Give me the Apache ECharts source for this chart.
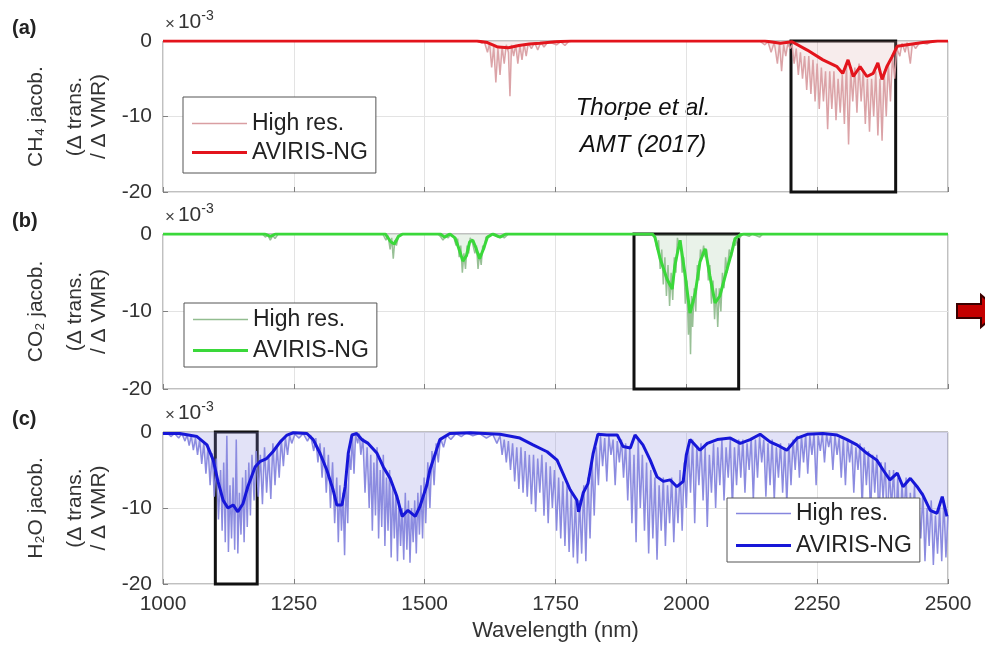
<!DOCTYPE html>
<html>
<head>
<meta charset="utf-8">
<script src="https://cdn.jsdelivr.net/npm/echarts@6/dist/echarts.min.js"></script>
<style>
html,body{margin:0;padding:0;background:#fff;}
#chart{width:985px;height:656px;}
</style>
</head>
<body>
<div id="chart"></div>
<script>
// ---------------- DATA (wavelength nm, jacobian x1e-3) ----------------
const xTickLabels = ['1000','1250','1500','1750','2000','2250','2500'];
const yTickLabels = ['-20','-10','0'];
const seriesLabels = ['High res.', 'AVIRIS-NG'];

const ch4Box = [2200, 2400];
const co2Box = [1900, 2100];
const h2oBox = [1100, 1180];

const ch4HighRes = [
[1000,0],[1600,0],[1610,-0.3],[1614,-0.1],[1620,-1.5],[1624,-0.3],[1628,-3.5],[1632,-0.8],[1636,-5.5],[1640,-1],
[1644,-4.5],[1648,-0.8],[1652,-3],[1656,-0.5],[1660,-1.5],[1663,-7.3],[1666,-0.5],[1670,-2],[1674,-0.5],[1678,-3],
[1682,-0.6],[1686,-2.5],[1690,-0.4],[1694,-2],[1698,-0.3],[1704,-1],[1710,-0.2],[1716,-1.2],[1722,-0.2],[1728,-0.8],
[1736,-0.1],[1752,-0.5],[1760,-0.1],[1768,-0.6],[1776,0],[2140,0],[2150,-0.5],[2156,-0.1],[2162,-1.5],[2168,-0.2],
[2174,-3],[2178,-0.3],[2182,-4],[2186,-0.5],[2190,-2],[2194,-0.3],[2198,-1],[2202,-0.5],[2206,-3],[2210,-1],
[2214,-4.5],[2218,-1.5],[2222,-5],[2226,-2],[2230,-6.5],[2234,-2],[2238,-7],[2242,-2.5],[2246,-8],[2250,-3],
[2254,-9],[2258,-3.5],[2262,-8],[2266,-4],[2270,-11.7],[2274,-4],[2278,-9],[2282,-4],[2286,-10.5],[2290,-5],
[2294,-9.5],[2298,-4.5],[2302,-11],[2306,-3],[2310,-13.7],[2314,-4],[2318,-8],[2322,-3.5],[2326,-9.5],[2330,-3],
[2334,-8],[2338,-4],[2342,-11],[2346,-5],[2350,-12],[2354,-5],[2358,-10],[2362,-4],[2366,-12.5],[2370,-5],
[2374,-13.2],[2378,-4],[2382,-10],[2386,-3],[2390,-8],[2394,-2],[2398,-5],[2402,-1],[2408,-2],[2412,-0.3],
[2418,-1.5],[2422,-0.2],[2428,-3],[2432,-0.3],[2438,-1],[2446,-0.2],[2460,-0.4],[2470,0],[2500,0]
];
const ch4Aviris = [
[1000,0],[1600,0],[1620,-0.2],[1640,-0.8],[1660,-0.9],[1680,-0.6],[1700,-0.4],[1720,-0.3],[1750,-0.1],[1780,0],
[2150,0],[2180,-0.3],[2202,-0.1],[2231,-1.2],[2261,-2.5],[2288,-3.4],[2299,-4.3],[2309,-2.5],[2319,-4.7],[2332,-3.4],
[2345,-4.7],[2357,-4.3],[2366,-2.9],[2374,-5.1],[2383,-3.4],[2393,-2.1],[2403,-0.7],[2422,-0.5],[2452,-0.2],[2480,0],[2500,0]
];

const co2HighRes = [
[1000,0],[1190,0],[1196,-0.4],[1200,-0.1],[1205,-0.8],[1210,-0.2],[1214,-0.6],[1220,0],[1420,0],[1426,-0.8],
[1430,-0.2],[1434,-2],[1437,-0.5],[1440,-3.2],[1443,-0.8],[1446,-1.5],[1450,-0.2],[1456,0],[1525,0],[1530,-0.3],
[1535,-0.8],[1540,-0.3],[1545,-0.5],[1550,0],[1556,-0.5],[1560,-1.5],[1563,-0.6],[1566,-3],[1569,-1.5],[1572,-5],
[1575,-2.5],[1578,-4.5],[1581,-1.5],[1584,-2.5],[1587,-0.5],[1590,-0.8],[1593,-1],[1596,-2.5],[1599,-1.5],[1602,-4.5],
[1605,-2.5],[1608,-4],[1611,-1.5],[1614,-2],[1617,-0.4],[1622,-0.3],[1630,0],[1640,-0.4],[1646,-0.2],[1652,-0.5],
[1660,0],[1935,0],[1940,-0.5],[1944,-2],[1947,-0.8],[1950,-4.5],[1953,-2],[1956,-6.5],[1959,-3],[1962,-8],
[1965,-4],[1968,-9.3],[1971,-5],[1974,-8.5],[1977,-3],[1980,-5],[1983,-0.5],[1986,-1.5],[1989,-0.8],[1992,-5],
[1995,-3],[1998,-9],[2001,-6],[2004,-13],[2006,-9],[2008,-15.5],[2010,-8],[2012,-12],[2015,-7],[2018,-10],
[2021,-4],[2024,-6],[2027,-2],[2030,-3],[2033,-1.5],[2036,-3],[2039,-2],[2042,-6],[2045,-4],[2048,-9],
[2051,-6],[2054,-11],[2057,-7],[2060,-12],[2063,-7],[2066,-10],[2069,-5],[2072,-7],[2075,-3],[2078,-5],
[2082,-2],[2086,-3],[2090,-1],[2094,-1.5],[2098,-0.3],[2102,-0.5],[2108,0],[2120,-0.3],[2126,0],[2140,-0.4],
[2146,0],[2500,0]
];
const co2Aviris = [
[1000,0],[1195,0],[1205,-0.3],[1215,0],[1425,0],[1435,-1],[1442,-1.3],[1450,-0.3],[1458,0],[1530,0],
[1538,-0.4],[1548,0],[1558,-0.5],[1566,-2],[1573,-3.5],[1580,-2.8],[1586,-1],[1592,-0.8],[1598,-1.8],[1605,-3.2],
[1612,-2],[1620,-0.4],[1630,0],[1644,-0.4],[1655,0],[1935,0],[1940,-0.4],[1950,-3.2],[1963,-5.8],[1973,-7.1],
[1978,-4.1],[1988,-0.8],[1998,-5.4],[2007,-10.2],[2017,-7.6],[2026,-3.6],[2036,-1.9],[2045,-5.4],[2055,-8.9],[2064,-8],
[2078,-4.5],[2087,-2.3],[2093,-0.6],[2103,-0.1],[2110,0],[2500,0]
];

const h2oHighRes = [
[1000,-0.3],[1008,-0.1],[1015,-0.6],[1022,-0.2],[1030,-0.8],[1036,-0.2],[1042,-1.2],[1046,-0.4],[1050,-1.8],[1054,-0.5],
[1058,-2.4],[1062,-0.8],[1066,-3.0],[1070,-1.0],[1074,-4.2],[1078,-1.5],[1082,-5.5],[1086,-2.0],[1090,-7.0],[1094,-2.8],
[1098,-8.5],[1102,-3.5],[1106,-11.5],[1110,-5],[1113,-13],[1116,-4],[1119,-14.5],[1122,-0.5],[1125,-15.8],[1128,-7],
[1131,-14],[1134,-6],[1137,-15.5],[1140,-1],[1143,-16],[1146,-8],[1149,-13.5],[1152,-6],[1155,-14.5],[1158,-5],
[1161,-12.5],[1164,-4],[1167,-11],[1170,-3],[1174,-9],[1178,-2.5],[1182,-8.5],[1186,-3],[1190,-9.5],[1194,-2],
[1198,-8],[1202,-3],[1206,-8.8],[1210,-1.5],[1214,-7],[1218,-2],[1222,-6],[1226,-1],[1230,-4.5],[1234,-0.8],
[1238,-3],[1242,-0.5],[1246,-1.5],[1252,-0.3],[1260,-0.8],[1268,-0.2],[1276,-1.2],[1282,-0.4],[1288,-2.5],[1292,-0.8],
[1296,-4],[1300,-1.5],[1304,-6],[1308,-2],[1312,-8],[1316,-3],[1320,-10],[1324,-4],[1328,-12],[1332,-6],
[1335,-14.5],[1338,-7],[1341,-13],[1344,-8],[1347,-16.2],[1350,-6],[1353,-12],[1356,-3],[1359,-5],[1362,-0.5],
[1365,-5.5],[1368,-0.3],[1372,-1.5],[1375,-0.2],[1378,-3],[1382,-0.8],[1386,-8],[1390,-2],[1394,-10],[1397,-3],
[1400,-13],[1403,-4],[1406,-11],[1409,-2],[1412,-14],[1415,-5],[1418,-12.5],[1421,-3],[1424,-15],[1427,-6],
[1430,-13],[1433,-5],[1436,-16.5],[1439,-7],[1442,-14],[1445,-8],[1448,-17],[1451,-9],[1454,-15],[1457,-10],
[1460,-16.8],[1463,-8],[1466,-15.5],[1469,-9],[1472,-17.2],[1475,-10],[1478,-14.5],[1481,-9],[1484,-16],[1487,-8],
[1490,-13.5],[1493,-7],[1496,-14],[1499,-6],[1502,-12],[1506,-4],[1510,-10],[1514,-2.5],[1518,-7],[1522,-1.5],
[1526,-4],[1530,-0.8],[1536,-2],[1542,-0.4],[1550,-1],[1560,-0.2],[1570,-0.6],[1580,-0.1],[1592,-0.5],[1605,-0.2],
[1618,-0.8],[1630,-0.3],[1638,-1.5],[1644,-0.5],[1648,-3],[1652,-1],[1656,-4],[1660,-1.2],[1664,-5],[1668,-1.5],
[1672,-6.5],[1676,-2],[1680,-7.5],[1684,-2],[1688,-8],[1692,-2.5],[1696,-8.5],[1700,-3],[1704,-9.5],[1708,-3],
[1712,-10.5],[1716,-3.5],[1720,-8],[1724,-3],[1728,-11],[1732,-4],[1736,-12],[1740,-4.5],[1744,-10],[1748,-5],
[1752,-13],[1756,-6],[1760,-14],[1764,-6.5],[1768,-15],[1772,-7],[1776,-15.8],[1780,-8],[1784,-16.5],[1788,-9],
[1792,-17.3],[1796,-9],[1800,-16],[1804,-7],[1808,-17],[1812,-6],[1816,-14],[1820,-4],[1824,-11],[1828,-2],
[1832,-7],[1836,-0.5],[1840,-4.5],[1844,-0.8],[1848,-6.5],[1852,-0.5],[1856,-3],[1860,-1],[1864,-7],[1868,-1.2],
[1872,-4],[1876,-1],[1880,-6],[1884,-1.5],[1888,-9],[1892,-2],[1896,-12],[1900,-3],[1904,-14.5],[1908,-1],
[1912,-10],[1916,-3],[1920,-13],[1924,-4],[1928,-16],[1932,-5],[1936,-14],[1940,-6],[1944,-16.8],[1948,-7],
[1952,-13],[1956,-6],[1960,-15],[1964,-7],[1968,-12],[1972,-6],[1976,-14.5],[1980,-7],[1984,-12],[1988,-5],
[1992,-13],[1996,-4],[2000,-10],[2004,-2],[2008,-8],[2012,-1],[2016,-12],[2020,-2],[2024,-7],[2028,-1.5],
[2032,-9],[2036,-2],[2040,-12.5],[2044,-3],[2048,-8],[2052,-1.5],[2056,-10],[2060,-2],[2064,-7],[2068,-1],
[2072,-9],[2076,-2],[2080,-6],[2084,-1],[2088,-10],[2092,-2],[2096,-7],[2100,-1],[2104,-6],[2108,-1],
[2112,-8],[2116,-1.5],[2120,-5],[2124,-0.8],[2128,-9],[2132,-1],[2136,-6],[2140,-0.5],[2144,-4],[2148,-1],
[2152,-8.5],[2156,-1.5],[2160,-7],[2164,-1],[2168,-9],[2172,-2],[2176,-6],[2180,-1.5],[2184,-8],[2188,-2],
[2192,-9.5],[2196,-1.5],[2200,-7],[2204,-1],[2208,-5],[2212,-0.5],[2216,-6],[2220,-0.5],[2224,-4],[2228,-0.3],
[2232,-5.5],[2236,-0.5],[2240,-3],[2244,-0.3],[2248,-7],[2252,-0.5],[2256,-2.5],[2260,-0.2],[2264,-4],[2268,-0.3],
[2272,-2],[2276,-0.5],[2280,-5],[2284,-0.5],[2288,-3],[2292,-0.8],[2296,-6],[2300,-1],[2304,-7],[2308,-1],
[2312,-4],[2316,-1.5],[2320,-8],[2324,-2],[2328,-5],[2332,-1.5],[2336,-10],[2340,-2],[2344,-7],[2348,-2.5],
[2352,-11],[2356,-3],[2360,-8],[2364,-3],[2368,-12],[2372,-4],[2376,-9],[2380,-4],[2384,-13],[2388,-5],
[2392,-10],[2396,-5],[2400,-12.5],[2404,-6],[2408,-14],[2412,-7],[2416,-11],[2420,-6],[2424,-15],[2428,-8],
[2432,-13],[2436,-7],[2440,-16],[2444,-9],[2448,-14],[2452,-8],[2456,-17],[2460,-10],[2464,-15],[2468,-9],
[2472,-17.5],[2476,-11],[2480,-16],[2484,-10],[2488,-17],[2492,-9],[2496,-16.5],[2500,-11]
];
const h2oAviris = [
[1000,-0.2],[1032,-0.2],[1065,-0.6],[1084,-1.7],[1096,-3.7],[1105,-6.5],[1115,-9],[1124,-10],[1134,-9.6],[1143,-10.5],
[1153,-9.4],[1162,-7.2],[1176,-4.6],[1185,-3.9],[1198,-3.5],[1210,-2.6],[1224,-1.3],[1237,-0.4],[1249,-0.1],[1275,-0.2],
[1287,-1],[1300,-2.8],[1313,-5],[1325,-7.6],[1332,-9.6],[1342,-9.6],[1348,-7.2],[1354,-2.8],[1361,-0.4],[1370,-0.2],
[1380,-1],[1392,-1.5],[1409,-2.8],[1421,-4.6],[1434,-6.1],[1447,-8.5],[1457,-11.1],[1468,-10.3],[1482,-11.1],[1491,-9.8],
[1504,-7],[1510,-5],[1529,-1],[1548,-0.2],[1587,-0.1],[1644,-0.3],[1682,-0.8],[1707,-1.7],[1734,-2.6],[1753,-3.7],
[1764,-5.4],[1778,-7.6],[1791,-9],[1794,-10.5],[1803,-8],[1812,-6.8],[1822,-2.8],[1831,-0.3],[1848,-0.4],[1868,-0.4],
[1879,-1.9],[1893,-2.1],[1902,-0.4],[1917,-1.7],[1931,-3.7],[1944,-5.9],[1956,-6.5],[1969,-6.3],[1982,-7.2],[1994,-6.5],
[2000,-3],[2007,-1],[2026,-2.4],[2040,-1.5],[2059,-1],[2084,-0.8],[2103,-1.5],[2122,-1],[2141,-0.3],[2160,-1.3],
[2179,-1.9],[2192,-2.4],[2212,-0.8],[2231,-0.3],[2261,-0.2],[2288,-0.4],[2307,-1],[2326,-1.7],[2345,-2.8],[2364,-3.7],
[2376,-5],[2389,-6.3],[2403,-5.4],[2414,-7.2],[2428,-6.1],[2441,-7.2],[2452,-8.3],[2466,-10.3],[2479,-10.7],[2489,-8.5],[2498,-11.1]
];

// ---------------- STYLE ----------------
const FONT = "'Liberation Sans', Arial, Helvetica, sans-serif";
const gridsPx = [
  {top: 41, height: 151},
  {top: 234, height: 155},
  {top: 432, height: 152}
];
const panels = [
  {hi: ch4HighRes, av: ch4Aviris, box: ch4Box, hiColor: '#d99ea2', hiArea: 0.2, avColor: '#e3141c', id: 'ch4'},
  {hi: co2HighRes, av: co2Aviris, box: co2Box, hiColor: '#92bd90', hiArea: 0.2, avColor: '#3ad83a', id: 'co2'},
  {hi: h2oHighRes, av: h2oAviris, box: h2oBox, hiColor: '#8686de', hiArea: 0.24, avColor: '#1717d8', id: 'h2o'}
];
const nameMap = {};
panels.forEach(p => { nameMap[p.id + '_hi'] = seriesLabels[0]; nameMap[p.id + '_av'] = seriesLabels[1]; });

const grid = gridsPx.map(g => ({
  left: 163, right: 37, top: g.top, height: g.height,
  show: true, borderColor: '#808080', borderWidth: 1, backgroundColor: 'rgba(0,0,0,0)'
}));

const xAxis = gridsPx.map((g, i) => ({
  type: 'value', gridIndex: i, min: 1000, max: 2500, interval: 250,
  axisLine: {show: false, onZero: false},
  axisTick: {show: true, inside: true, length: 5, lineStyle: {color: '#808080'}},
  splitLine: {show: true, lineStyle: {color: '#e3e3e3', width: 1}},
  axisLabel: {show: i === 2, fontSize: 21, color: '#333', fontFamily: FONT, margin: 10,
    formatter: v => xTickLabels[Math.round((v - 1000) / 250)]},
  name: i === 2 ? 'Wavelength (nm)' : '',
  nameLocation: 'middle', nameGap: 36,
  nameTextStyle: {fontSize: 22, color: '#333', fontFamily: FONT}
}));

const yAxis = gridsPx.map((g, i) => ({
  type: 'value', gridIndex: i, min: -20, max: 0, interval: 10,
  axisLine: {show: false, onZero: false},
  axisTick: {show: true, inside: true, length: 5, lineStyle: {color: '#808080'}},
  splitLine: {show: true, lineStyle: {color: '#e3e3e3', width: 1}},
  axisLabel: {fontSize: 21, color: '#333', fontFamily: FONT, margin: 11,
    formatter: v => yTickLabels[Math.round((v + 20) / 10)]}
}));

const series = [];
panels.forEach((p, i) => {
  series.push({
    name: p.id + '_hi', type: 'line', xAxisIndex: i, yAxisIndex: i,
    data: p.hi, symbol: 'none', showSymbol: false, z: 2, silent: true,
    lineStyle: {color: p.hiColor, width: 1.5, opacity: 0.95}, itemStyle: {color: p.hiColor},
    areaStyle: {color: p.hiColor, opacity: p.hiArea, origin: 'end'},
    animation: false
  });
  series.push({
    name: p.id + '_av', type: 'line', xAxisIndex: i, yAxisIndex: i,
    data: p.av, symbol: 'none', showSymbol: false, z: 3, silent: true,
    lineStyle: {color: p.avColor, width: 3}, itemStyle: {color: p.avColor},
    animation: false,
    markArea: {
      silent: true,
      itemStyle: {color: 'rgba(0,0,0,0)', borderColor: '#111', borderWidth: 3},
      data: [[{xAxis: p.box[0], yAxis: 0}, {xAxis: p.box[1], yAxis: -20}]]
    }
  });
});

const HI_ICON = 'path://M0,0H55V1.4H0Z';
const AV_ICON = 'path://M0,0H55V3.2H0Z';
const legendBase = {
  orient: 'vertical', itemWidth: 55, itemHeight: 20, itemGap: 6, itemSymbolKeepAspect: true,
  backgroundColor: '#fff', borderColor: '#555', borderWidth: 1, borderRadius: 0,
  textStyle: {fontSize: 23, color: '#222', fontFamily: FONT},
  formatter: n => nameMap[n], selectedMode: false
};
const legendData = id => [{name: id + '_hi', icon: HI_ICON}, {name: id + '_av', icon: AV_ICON}];
const legend = [
  Object.assign({}, legendBase, {left: 183, top: 97, padding: [15, 8, 9, 9], itemGap: 6, data: legendData('ch4')}),
  Object.assign({}, legendBase, {left: 184, top: 303, padding: [5, 8, 5, 9], itemGap: 8, data: legendData('co2')}),
  Object.assign({}, legendBase, {left: 727, top: 498, padding: [4, 8, 5, 9], itemGap: 9, data: legendData('h2o')})
];

const yNames = [
  ['CH\u2084 jacob.', '(\u0394 trans.', '/ \u0394 VMR)'],
  ['CO\u2082 jacob.', '(\u0394 trans.', '/ \u0394 VMR)'],
  ['H\u2082O jacob.', '(\u0394 trans.', '/ \u0394 VMR)']
];
const panelTags = ['(a)', '(b)', '(c)'];
const graphic = [];
gridsPx.forEach((g, i) => {
  const cy = g.top + g.height / 2;
  [36, 75, 99].forEach((x, k) => {
    graphic.push({type: 'text', x: x, y: cy, rotation: Math.PI / 2,
      style: {text: yNames[i][k], fontSize: 21, fill: '#333', fontFamily: FONT, align: 'center', verticalAlign: 'middle'}});
  });
  graphic.push({type: 'text', x: 12, y: g.top - 13,
    style: {text: panelTags[i], fontSize: 20, fontWeight: 'bold', fill: '#222', fontFamily: FONT, verticalAlign: 'middle'}});
  graphic.push({type: 'text', x: 165, y: g.top - 20,
    style: {text: '{a|\u00d7}{b|10}{c|-3}', fontFamily: FONT, fill: '#333', verticalAlign: 'middle',
      rich: {a: {fontSize: 17, fill: '#444', lineHeight: 24, verticalAlign: 'bottom', padding: [0, 3, 0, 0]},
             b: {fontSize: 21, fill: '#333', lineHeight: 24, verticalAlign: 'bottom'},
             c: {fontSize: 14, fill: '#333', lineHeight: 24, verticalAlign: 'top'}}}});
});
graphic.push({type: 'text', x: 643, y: 108,
  style: {text: 'Thorpe et al.', fontSize: 24, fontStyle: 'italic', fill: '#111', fontFamily: FONT, align: 'center', verticalAlign: 'middle'}});
graphic.push({type: 'text', x: 643, y: 145,
  style: {text: 'AMT (2017)', fontSize: 24, fontStyle: 'italic', fill: '#111', fontFamily: FONT, align: 'center', verticalAlign: 'middle'}});
graphic.push({type: 'polygon',
  shape: {points: [[957, 304], [981, 304], [981, 295], [1000, 311], [981, 327], [981, 318], [957, 318]]},
  style: {fill: '#c40000', stroke: '#3a0000', lineWidth: 2}});

const chart = echarts.init(document.getElementById('chart'), null, {renderer: 'canvas'});
chart.setOption({
  animation: false,
  backgroundColor: '#fff',
  grid, xAxis, yAxis, series, legend, graphic
});
</script>
</body>
</html>
